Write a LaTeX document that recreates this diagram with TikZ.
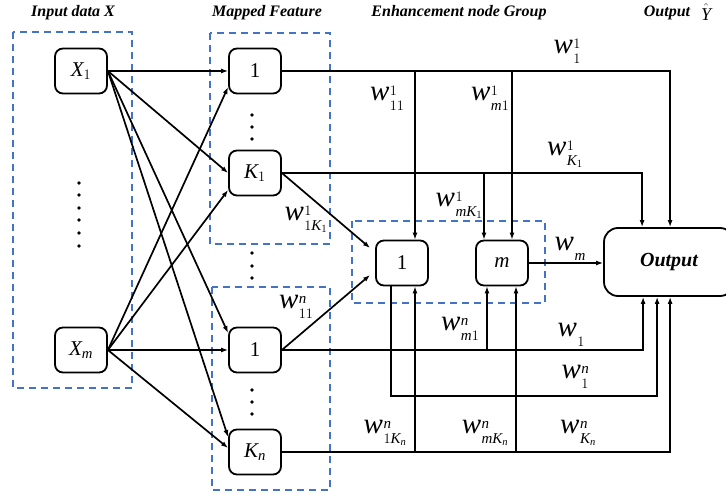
\documentclass[tikz,border=0pt]{standalone}
\usepackage{fontspec}
\setmainfont{Liberation Serif}
\usetikzlibrary{arrows.meta,calc}
\definecolor{dblue}{RGB}{68,114,196}
\newcommand\wl[2]{{\fontsize{29}{29}\selectfont\itshape w}\kern0.5pt\raisebox{5pt}{\rlap{\fontsize{15}{15}\selectfont$#1$}}\raisebox{-10pt}{\fontsize{15}{15}\selectfont$#2$}}
\tikzset{
 box/.style={draw,line width=1.8pt,rounded corners=8pt,minimum width=52pt,minimum height=45pt,inner sep=0pt,font=\fontsize{21}{24}\selectfont},
 grp/.style={draw=dblue,line width=1.8pt,dash pattern=on 7pt off 5pt},
 ln/.style={line width=1.7pt},
 arr/.style={ln,-{Latex[length=7pt,width=5pt]}},
 lab/.style={inner sep=0pt},
 ttl/.style={inner sep=0pt,font=\fontsize{16}{18}\selectfont\bfseries\itshape},
}
\begin{document}
\begin{tikzpicture}[x=1pt,y=-1pt]
\useasboundingbox (0,0) rectangle (726,495);
% group frames
\draw[grp] (13,32) rectangle (132,388);
\draw[grp] (210,33) rectangle (330,244);
\draw[grp] (212,287) rectangle (330,490);
\draw[grp] (352,221) rectangle (545,303);
% titles
\node[ttl] (t1) at (73,13) {Input data X};
\node[ttl] (t2) at (267,13) {Mapped Feature};
\node[ttl] (t3) at (459,13) {Enhancement node Group};
\node[ttl] (t4) at (667,13) {Output};
\node[inner sep=0pt,font=\fontsize{18}{20}\selectfont] (t5) at (706,12) {$\hat{\mathit{Y}}$};
% nodes
\node[box] (x1) at (81,71) {$\mathit{X}_{1}$};
\node[box] (xm) at (81,350) {$\mathit{X}_{\mathit{m}}$};
\node[box] (f1) at (255,71) {1};
\node[box] (k1) at (255,173) {$\mathit{K}_{1}$};
\node[box] (g1) at (255,350) {1};
\node[box] (kn) at (255,452) {$\mathit{K}_{\mathit{n}}$};
\node[box] (e1) at (402,263) {1};
\node[box] (em) at (502,263) {$\mathit{m}$};
\node[box,rounded corners=14pt,minimum width=130pt,minimum height=68pt,font=\fontsize{20}{24}\selectfont\bfseries\itshape] (out) at (669,262) {Output};
% dots
\foreach \y in {183,195,208,220,233,246} \fill (79,\y) circle (1.9pt);
\foreach \y in {115,127,139,253,266,278,390,402,414} \fill (252,\y) circle (1.9pt);
% helper coordinates
\coordinate (e1t) at ([xshift=13pt]e1.north);
\coordinate (emt) at ([xshift=10pt]em.north);
\coordinate (emk) at ([xshift=-18pt]em.north);
\coordinate (e1b) at ([xshift=13pt]e1.south);
\coordinate (e1s) at ([xshift=-11pt]e1.south);
\coordinate (emb1) at ([xshift=-15pt]em.south);
\coordinate (embn) at ([xshift=14pt]em.south);
\coordinate (oT1) at ([xshift=67pt]out.north west);
\coordinate (oT2) at ([xshift=39pt]out.north west);
\coordinate (oB1) at ([xshift=40pt]out.south west);
\coordinate (oB2) at ([xshift=54pt]out.south west);
\coordinate (oB3) at ([xshift=67pt]out.south west);
\coordinate (bus) at (0,396);
% input to mapped
\draw[arr] (x1.east) -- (f1.west);
\draw[arr] (x1.east) -- (k1.west);
\draw[arr] (x1.east) -- ([shift={(0,-17)}]g1.west);
\draw[arr] (x1.east) -- ([shift={(0,-15)}]kn.west);
\draw[arr] (xm.east) -- ([shift={(0,16)}]f1.west);
\draw[arr] (xm.east) -- ([shift={(0,17)}]k1.west);
\draw[arr] (xm.east) -- (g1.west);
\draw[arr] (xm.east) -- ([shift={(0,-4)}]kn.west);
% mapped to enhancement / output
\draw[arr] (f1.east) -| (oT1);
\draw[arr] (f1.east -| e1t) -- (e1t);
\draw[arr] (f1.east -| emt) -- (emt);
\draw[arr] (k1.east) -| (oT2);
\draw[arr] (k1.east -| emk) -- (emk);
\draw[arr] (k1.east) -- ([shift={(-5,-15)}]e1.west);
\draw[arr] (g1.east) -- ([shift={(-5,12)}]e1.west);
\draw[arr] (g1.east) -| (oB1);
\draw[arr] (g1.east -| emb1) -- (emb1);
\draw[arr] (e1s) |- (bus -| oB2) -- (oB2);
\draw[arr] (kn.east) -| (oB3);
\draw[arr] (kn.east -| e1b) -- (e1b);
\draw[arr] (kn.east -| embn) -- (embn);
\draw[arr] (em.east) -- (em.east -| out.west);
% labels
\node[lab] (l1) at (567,51) {\wl{1}{1}};
\node[lab] (l2) at (387,98) {\wl{1}{11}};
\node[lab] (l3) at (490,98) {\wl{1}{\mathit{m}1}};
\node[lab] (l4) at (565,154) {\wl{1}{\mathit{K}_1}};
\node[lab] (l5) at (459,205) {\wl{1}{\mathit{mK}_1}};
\node[lab] (l6) at (306,219) {\wl{1}{1\mathit{K}_1}};
\node[lab] (l7) at (570,249) {\wl{}{\mathit{m}}};
\node[lab] (l8) at (296,307) {\wl{\mathit{n}}{11}};
\node[lab] (l9) at (460,329) {\wl{\mathit{n}}{\mathit{m}1}};
\node[lab] (l10) at (571,335) {\wl{}{1}};
\node[lab] (l11) at (575,377) {\wl{\mathit{n}}{1}};
\node[lab] (l12) at (385,433) {\wl{\mathit{n}}{1\mathit{K}_{\mathit{n}}}};
\node[lab] (l13) at (485,433) {\wl{\mathit{n}}{\mathit{mK}_{\mathit{n}}}};
\node[lab] (l14) at (578,433) {\wl{\mathit{n}}{\mathit{K}_{\mathit{n}}}};
\end{tikzpicture}
\end{document}
